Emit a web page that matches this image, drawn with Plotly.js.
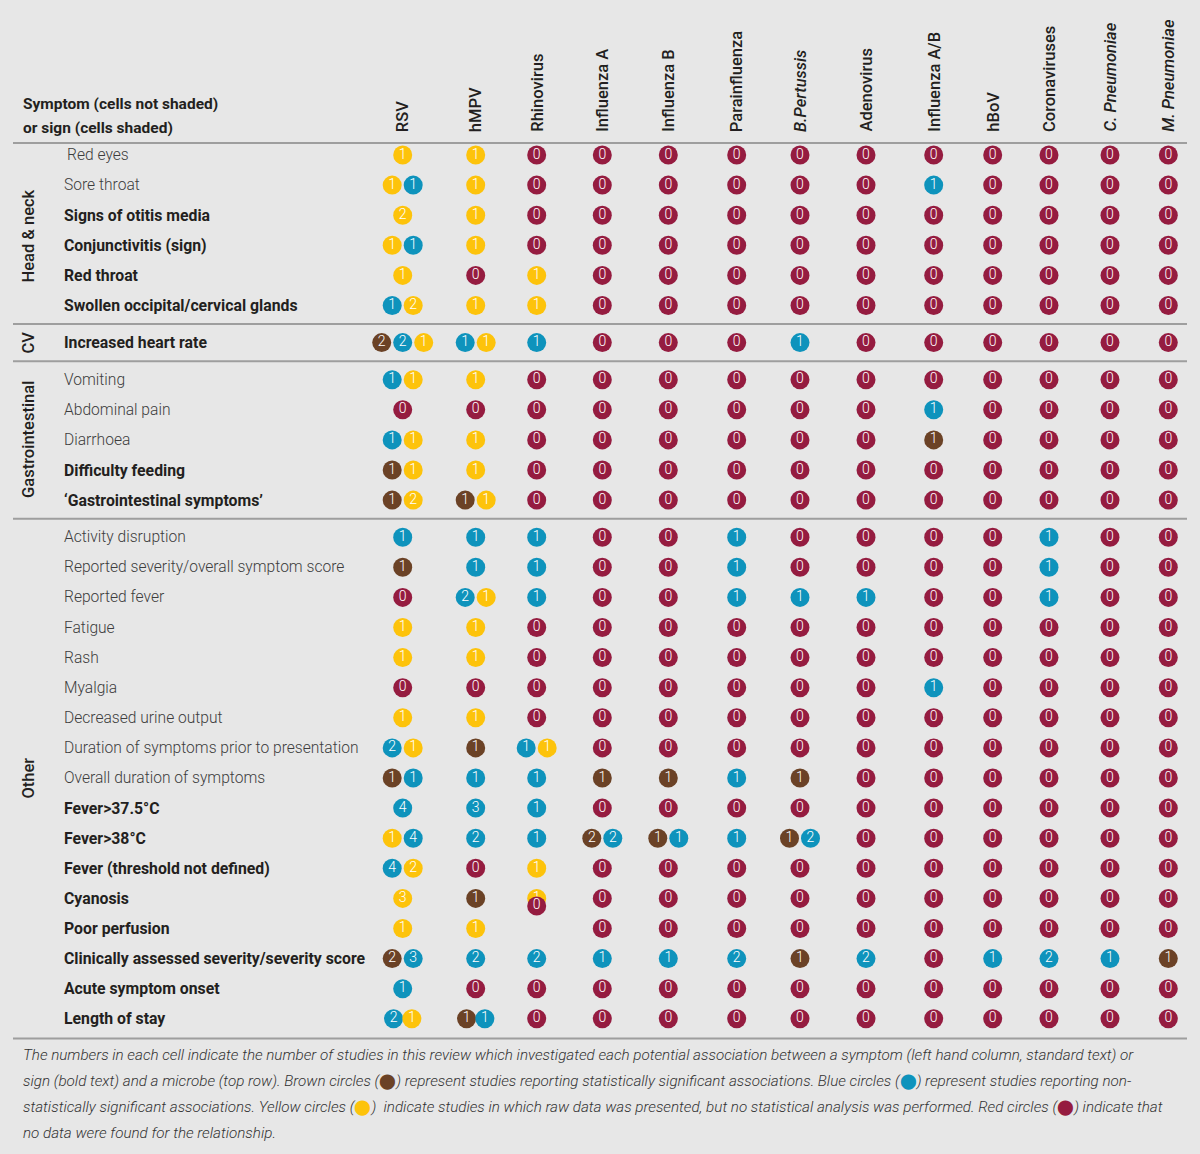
<!DOCTYPE html>
<html><head><meta charset="utf-8">
<script src="https://cdn.plot.ly/plotly-3.0.1.min.js"></script>
<style>html,body{margin:0;padding:0;background:#e7e7e7}</style>
</head><body><div id="chart" style="width:1200px;height:1154px"></div>
<script>
// ---------------- DATA ----------------
const microbes = ['RSV','hMPV','Rhinovirus','Influenza A','Influenza B','Parainfluenza','B.Pertussis','Adenovirus','Influenza A/B','hBoV','Coronaviruses','C. Pneumoniae','M. Pneumoniae'];
const italicMicrobes = ['B.Pertussis','C. Pneumoniae','M. Pneumoniae'];
const groups = ['Head & neck','CV','Gastrointestinal','Other'];
const symptoms = [
  'Red eyes','Sore throat','Signs of otitis media','Conjunctivitis (sign)','Red throat','Swollen occipital/cervical glands',
  'Increased heart rate',
  'Vomiting','Abdominal pain','Diarrhoea','Difficulty feeding','\u2018Gastrointestinal symptoms\u2019',
  'Activity disruption','Reported severity/overall symptom score','Reported fever','Fatigue','Rash','Myalgia',
  'Decreased urine output','Duration of symptoms prior to presentation','Overall duration of symptoms',
  'Fever>37.5\u00B0C','Fever>38\u00B0C','Fever (threshold not defined)','Cyanosis','Poor perfusion',
  'Clinically assessed severity/severity score','Acute symptom onset','Length of stay'
];
const symptomGroup = [0,0,0,0,0,0, 1, 2,2,2,2,2, 3,3,3,3,3,3,3,3,3,3,3,3,3,3,3,3,3];
const isSign = [0,0,1,1,1,1, 1, 0,0,0,1,1, 0,0,0,0,0,0,0,0,0,1,1,1,1,1,1,1,1];
// Cell codes per microbe (same order as microbes), circles left to right:
// S = statistically significant (brown), N = non-significant (blue),
// R = raw data, no analysis (yellow), X = no data (red); digit = number of studies
const cells = [
  'R1|R1|X0|X0|X0|X0|X0|X0|X0|X0|X0|X0|X0',
  'R1 N1|R1|X0|X0|X0|X0|X0|X0|N1|X0|X0|X0|X0',
  'R2|R1|X0|X0|X0|X0|X0|X0|X0|X0|X0|X0|X0',
  'R1 N1|R1|X0|X0|X0|X0|X0|X0|X0|X0|X0|X0|X0',
  'R1|X0|R1|X0|X0|X0|X0|X0|X0|X0|X0|X0|X0',
  'N1 R2|R1|R1|X0|X0|X0|X0|X0|X0|X0|X0|X0|X0',
  'S2 N2 R1|N1 R1|N1|X0|X0|X0|N1|X0|X0|X0|X0|X0|X0',
  'N1 R1|R1|X0|X0|X0|X0|X0|X0|X0|X0|X0|X0|X0',
  'X0|X0|X0|X0|X0|X0|X0|X0|N1|X0|X0|X0|X0',
  'N1 R1|R1|X0|X0|X0|X0|X0|X0|S1|X0|X0|X0|X0',
  'S1 R1|R1|X0|X0|X0|X0|X0|X0|X0|X0|X0|X0|X0',
  'S1 R2|S1 R1|X0|X0|X0|X0|X0|X0|X0|X0|X0|X0|X0',
  'N1|N1|N1|X0|X0|N1|X0|X0|X0|X0|N1|X0|X0',
  'S1|N1|N1|X0|X0|N1|X0|X0|X0|X0|N1|X0|X0',
  'X0|N2 R1|N1|X0|X0|N1|N1|N1|X0|X0|N1|X0|X0',
  'R1|R1|X0|X0|X0|X0|X0|X0|X0|X0|X0|X0|X0',
  'R1|R1|X0|X0|X0|X0|X0|X0|X0|X0|X0|X0|X0',
  'X0|X0|X0|X0|X0|X0|X0|X0|N1|X0|X0|X0|X0',
  'R1|R1|X0|X0|X0|X0|X0|X0|X0|X0|X0|X0|X0',
  'N2 R1|S1|N1 R1|X0|X0|X0|X0|X0|X0|X0|X0|X0|X0',
  'S1 N1|N1|N1|S1|S1|N1|S1|X0|X0|X0|X0|X0|X0',
  'N4|N3|N1|X0|X0|X0|X0|X0|X0|X0|X0|X0|X0',
  'R1 N4|N2|N1|S2 N2|S1 N1|N1|S1 N2|X0|X0|X0|X0|X0|X0',
  'N4 R2|X0|R1|X0|X0|X0|X0|X0|X0|X0|X0|X0|X0',
  'R3|S1|R1|X0|X0|X0|X0|X0|X0|X0|X0|X0|X0',
  'R1|R1|X0|X0|X0|X0|X0|X0|X0|X0|X0|X0|X0',
  'S2 N3|N2|N2|N1|N1|N2|S1|N2|X0|N1|N2|N1|S1',
  'N1|X0|X0|X0|X0|X0|X0|X0|X0|X0|X0|X0|X0',
  'N2 R1|S1 N1|X0|X0|X0|X0|X0|X0|X0|X0|X0|X0|X0'
];
const footnote = [
  'The numbers in each cell indicate the number of studies in this review which investigated each potential association between a symptom (left hand column, standard text) or',
  'sign (bold text) and a microbe (top row). Brown circles ({S}) represent studies reporting statistically significant associations. Blue circles ({N}) represent studies reporting non-',
  'statistically significant associations. Yellow circles ({R})  indicate studies in which raw data was presented, but no statistical analysis was performed. Red circles ({X}) indicate that',
  'no data were found for the relationship.'
];

// ---------------- LAYOUT / STYLE ----------------
const colours = {S:'#6b4226', N:'#0e93bc', R:'#fdc30b', X:'#951c40'};
const bg = '#e7e7e7';
const colX = [402.7,475.7,536.7,602.3,668.3,736.7,800,866,933.7,992.7,1049,1110,1168.3];
const firstRowY = 155, rowStep = 30.1, groupGap = 7, circleStep = 21;
const tightRows = {28: 18.3};   // circles printed overlapping in the source ("Length of stay")
// the "Poor perfusion" / Rhinovirus circle is printed shifted up onto the Cyanosis cell in the source
const displaced = [{row:25, col:2, shift:-0.75}];
const FONT = 'Roboto, "Open Sans", sans-serif';

function rowY(r){ return firstRowY + r*rowStep + symptomGroup[r]*groupGap; }

// build circles
const slots = [[],[],[]];
const extra = [];
cells.forEach((rowStr, r) => {
  rowStr.split('|').forEach((cell, c) => {
    const toks = cell.trim() ? cell.trim().split(' ') : [];
    const n = toks.length;
    const step = tightRows[r] || circleStep;
    toks.forEach((t, k) => {
      const d = displaced.find(o => o.row === r && o.col === c);
      const pt = {x: colX[c] + (k - (n-1)/2)*step,
                  y: rowY(r) + (d ? d.shift*rowStep : 0),
                  color: colours[t[0]], text: t.slice(1)};
      (d ? extra : slots[k]).push(pt);
    });
  });
});
function mk(pts){
  return {type:'scatter', mode:'markers+text', x:pts.map(p=>p.x), y:pts.map(p=>p.y),
    text:pts.map(p=>p.text), textposition:'middle center', cliponaxis:false,
    textfont:{family:FONT, size:14, color:'#ffffff', weight:300},
    marker:{size:19, color:pts.map(p=>p.color), line:{width:0}},
    hoverinfo:'skip', showlegend:false};
}
const traces = slots.concat([extra]).map(mk);

// separator lines
const lastRowIdx = {};
symptomGroup.forEach((g,i)=>{ lastRowIdx[g]=i; });
const sepY = [143];
for (let g=0; g<groups.length-1; g++){
  const i = lastRowIdx[g];
  sepY.push((rowY(i)+rowY(i+1))/2);
}
sepY.push(1038.5);
const shapes = sepY.map(y => ({type:'line', xref:'x', yref:'y', x0:13, x1:1187, y0:y, y1:y,
  line:{color:'#9e9e9e', width:2}}));

const ann = [];
// header
ann.push({x:21, y:104, xref:'x', yref:'y', text:'<b>Symptom (cells not shaded)</b>', showarrow:false,
  xanchor:'left', yanchor:'middle', font:{family:FONT, size:15.5, color:'#231f20'}});
ann.push({x:21, y:128, xref:'x', yref:'y', text:'<b>or sign (cells shaded)</b>', showarrow:false,
  xanchor:'left', yanchor:'middle', font:{family:FONT, size:15.5, color:'#231f20'}});
// microbe labels
microbes.forEach((m,c)=>{
  const txt = italicMicrobes.includes(m) ? '<i>'+m+'</i>' : m;
  ann.push({x:colX[c], y:134, xref:'x', yref:'y', text:txt, showarrow:false, textangle:-90,
    xanchor:'center', yanchor:'bottom', font:{family:FONT, size:16.5, color:'#231f20', weight:500}});
});
// group labels
groups.forEach((g,i)=>{
  const yc = (sepY[i]+sepY[i+1])/2 + (i===0 ? 3 : 0);
  ann.push({x:29, y:yc, xref:'x', yref:'y', text:g, showarrow:false, textangle:-90,
    xanchor:'center', yanchor:'middle', font:{family:FONT, size:16.5, color:'#231f20', weight:500}});
});
// symptom labels
symptoms.forEach((s,r)=>{
  const bold = isSign[r];
  const t = s.replace(/>/g,'&gt;');
  ann.push({x: r===0 ? 65 : 62, y:rowY(r), xref:'x', yref:'y', text: bold ? '<b>'+t+'</b>' : t,
    showarrow:false, xanchor:'left', yanchor:'middle',
    font:{family:FONT, size: bold?15.8:15.6, color: bold?'#231f20':'#3d3d3d', weight: bold?700:300}});
});
// footnote
footnote.forEach((line,i)=>{
  const hasDot = /\{/.test(line);
  const txt = '<i>' + line.replace(/\{(\w)\}/g, (m,k)=>'<span style="color:'+colours[k]+';font-family:\'DejaVu Sans\';font-style:normal">\u2B24</span>') + '</i>';
  ann.push({x:21, y:1055 + i*26, xref:'x', yref:'y', text:txt, showarrow:false, xanchor:'left', yanchor:'middle',
    font:{family:FONT, size:15.2, color:'#333333', weight:300}});
});

const layout = {
  width:1200, height:1154, margin:{l:0,r:0,t:0,b:0,pad:0},
  paper_bgcolor:bg, plot_bgcolor:bg, showlegend:false,
  xaxis:{range:[0,1200], visible:false, fixedrange:true},
  yaxis:{range:[1154,0], visible:false, fixedrange:true},
  shapes:shapes, annotations:ann
};
Plotly.newPlot('chart', traces, layout, {displayModeBar:false, staticPlot:true});
</script></body></html>
